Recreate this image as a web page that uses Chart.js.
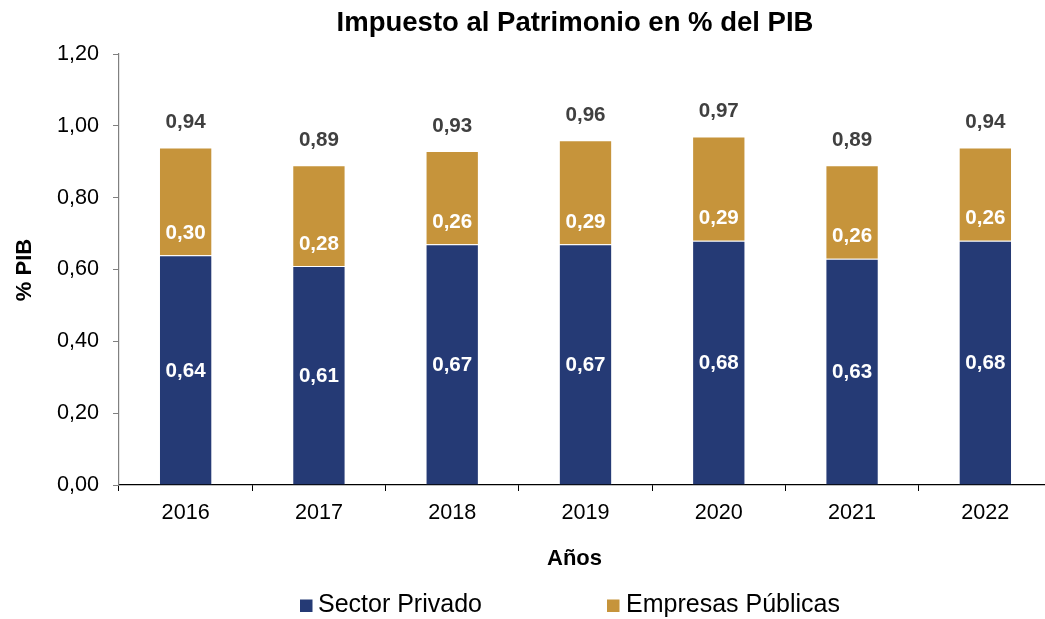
<!DOCTYPE html>
<html>
<head>
<meta charset="utf-8">
<script src="https://cdn.jsdelivr.net/npm/chart.js@4.4.0/dist/chart.umd.min.js"></script>
<style>
html,body{margin:0;padding:0;overflow:hidden;background:#fff}
#wrap{position:relative;width:1052px;height:619px}
</style>
</head>
<body>
<div id="wrap"><canvas id="c" width="1052" height="619"></canvas></div>
<script>
// ---- Data ----
const categories = ['2016', '2017', '2018', '2019', '2020', '2021', '2022'];
const sectorPrivado = [0.64, 0.61, 0.67, 0.67, 0.68, 0.63, 0.68];
const empresasPublicas = [0.30, 0.28, 0.26, 0.29, 0.29, 0.26, 0.26];
const seriesNames = ['Sector Privado', 'Empresas Públicas'];
const yTickValues = [0, 0.2, 0.4, 0.6, 0.8, 1.0, 1.2];
const titleText = 'Impuesto al Patrimonio en % del PIB';
const xAxisTitle = 'Años';
const yAxisTitle = '% PIB';

const NAVY = '#253A75';
const GOLD = '#C6943B';
const FONT = "'Liberation Sans', Arial, Helvetica, sans-serif";
const fmt = v => v.toFixed(2).replace('.', ',');

const decorPlugin = {
  id: 'decor',
  afterDatasetsDraw(chart) {
    const ctx = chart.ctx;
    const m0 = chart.getDatasetMeta(0).data;
    const m1 = chart.getDatasetMeta(1).data;
    ctx.save();
    ctx.textAlign = 'center';
    ctx.textBaseline = 'middle';
    ctx.font = 'bold 20.6px ' + FONT;
    for (let i = 0; i < categories.length; i++) {
      const a = m0[i], b = m1[i];
      ctx.fillStyle = '#ffffff';
      ctx.fillText(fmt(sectorPrivado[i]), a.x, (a.y + a.base) / 2 + 1);
      ctx.fillText(fmt(empresasPublicas[i]), b.x, b.base - 22);
      ctx.fillStyle = '#404040';
      ctx.fillText(fmt(sectorPrivado[i] + empresasPublicas[i]), b.x, b.y - 25);
    }
    ctx.restore();
  },
  afterDraw(chart) {
    const ctx = chart.ctx;
    ctx.save();
    ctx.fillStyle = '#000';
    ctx.textAlign = 'center';
    ctx.textBaseline = 'alphabetic';
    ctx.font = 'bold 27.5px ' + FONT;
    ctx.fillText(titleText, 575, 30.5);
    ctx.font = 'bold 22px ' + FONT;
    ctx.fillText(xAxisTitle, 574.5, 565);
    ctx.save();
    ctx.translate(31, 270);
    ctx.rotate(-Math.PI / 2);
    ctx.fillText(yAxisTitle, 0, 0);
    ctx.restore();
    // legend
    ctx.textAlign = 'left';
    ctx.font = '25px ' + FONT;
    const items = [
      {name: seriesNames[0], color: NAVY, bx: 300, tx: 318},
      {name: seriesNames[1], color: GOLD, bx: 607, tx: 626}
    ];
    items.forEach(it => {
      ctx.fillStyle = it.color;
      ctx.fillRect(it.bx, 599.5, 12.5, 12.5);
      ctx.fillStyle = '#000';
      ctx.fillText(it.name, it.tx, 612);
    });
    ctx.restore();
  }
};

new Chart(document.getElementById('c'), {
  type: 'bar',
  data: {
    labels: categories,
    datasets: [
      {label: seriesNames[0], data: sectorPrivado, backgroundColor: NAVY,
       borderColor: 'rgba(255,255,255,0.22)', borderWidth: 1, barPercentage: 0.4, categoryPercentage: 1},
      {label: seriesNames[1], data: empresasPublicas, backgroundColor: GOLD,
       borderColor: 'rgba(255,255,255,0.22)', borderWidth: 1, barPercentage: 0.4, categoryPercentage: 1}
    ]
  },
  options: {
    responsive: false,
    animation: false,
    devicePixelRatio: 1,
    layout: {padding: {top: 54, left: 0, right: 0, bottom: 0}},
    plugins: {legend: {display: false}, title: {display: false}, tooltip: {enabled: false}},
    scales: {
      x: {
        stacked: true,
        offset: true,
        grid: {display: true, drawOnChartArea: false, drawTicks: true, tickLength: 6, color: '#000', offset: true},
        border: {display: true, color: '#000', width: 1.2},
        ticks: {color: '#000', font: {family: FONT, size: 21.6}, padding: 9, maxRotation: 0},
        afterFit: s => { s.height = 134; }
      },
      y: {
        stacked: true,
        min: 0,
        max: 1.2,
        afterBuildTicks: s => { s.ticks = yTickValues.map(v => ({value: v})); },
        grid: {display: true, drawOnChartArea: false, drawTicks: true, tickLength: 6, color: '#808080'},
        border: {display: true, color: '#808080', width: 1.2},
        ticks: {color: '#000', font: {family: FONT, size: 21.6}, padding: 14, callback: v => fmt(v)},
        afterFit: s => { s.width = 119; }
      }
    }
  },
  plugins: [decorPlugin]
});
</script>
</body>
</html>
